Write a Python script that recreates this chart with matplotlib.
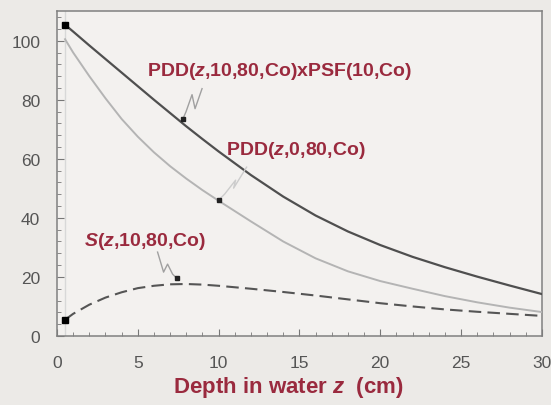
import numpy as np
import matplotlib
matplotlib.use("Agg")
import matplotlib.pyplot as plt
from matplotlib.ticker import MultipleLocator

# ==============================
# DATA
# ==============================
depth = [0.5, 1, 2, 3, 4, 5, 6, 7, 8, 9, 10, 12, 14, 16, 18, 20, 22, 24, 26, 28, 30]
pdd_psf = [105.4, 103.1, 98.4, 93.8, 89.2, 84.6, 80.0, 75.5, 71.0, 66.7, 62.5,
           54.5, 47.2, 40.8, 35.4, 30.8, 26.8, 23.3, 20.1, 17.1, 14.2]
pdd_zero = [100.5, 96.0, 88.0, 80.5, 73.5, 67.5, 62.2, 57.5, 53.3, 49.4, 45.8,
            38.8, 32.0, 26.3, 21.9, 18.6, 16.0, 13.5, 11.4, 9.6, 8.1]
scatter = [5.5, 7.5, 10.6, 13.0, 14.8, 16.2, 17.0, 17.5, 17.6, 17.4, 17.0,
           16.0, 14.9, 13.7, 12.4, 11.1, 10.0, 9.0, 8.2, 7.5, 6.8]

x_ticks = [0, 5, 10, 15, 20, 25, 30]
y_ticks = [0, 20, 40, 60, 80, 100]

red = "#9a2a3e"
fig_bg = "#eceae7"
ax_bg = "#f3f1ef"

plt.rcParams["font.family"] = ["Liberation Sans", "DejaVu Sans"]
plt.rcParams["mathtext.fontset"] = "custom"
plt.rcParams["mathtext.it"] = "Liberation Sans:italic:bold"
plt.rcParams["mathtext.rm"] = "Liberation Sans:bold"

fig = plt.figure(figsize=(5.51, 4.06), dpi=100, facecolor=fig_bg)
ax = fig.add_axes([0.1034, 0.170, 0.880, 0.800], facecolor=ax_bg)

ax.set_xlim(0, 30)
ax.set_ylim(0, 110)

# faint line at depth of maximum
ax.axvline(depth[0], color="#d8d8d8", lw=1.0, zorder=1)

ax.plot(depth, pdd_psf, color="#4f4f4f", lw=1.6, zorder=3)
ax.plot(depth, pdd_zero, color="#b4b4b4", lw=1.4, zorder=3)
ax.plot(depth, scatter, color="#555555", lw=1.5, ls=(0, (6, 3)), zorder=3)

# start points
ax.plot([depth[0], depth[0]], [pdd_psf[0], scatter[0]], "s", color="black",
        ms=4, zorder=4)


def leader(xp, yp, pts, color):
    # zigzag leader, offsets in pixels from a point next to a curve
    ax.plot([xp], [yp], "s", color="#222222", ms=2.5, zorder=5)
    disp = ax.transData.transform((xp, yp))
    line_pts = [(disp[0], disp[1])] + [(disp[0] + dx, disp[1] + dy) for dx, dy in pts]
    data_pts = ax.transData.inverted().transform(line_pts)
    ax.plot(data_pts[:, 0], data_pts[:, 1], color=color, lw=1.0, zorder=4)


leader(7.8, 73.6, [(3, 7), (9, 24), (12, 10), (19, 30)], "#a0a0a0")
leader(10.0, 46.0, [(6, 6), (17, 20), (15, 12), (28, 33)], "#cccccc")
leader(7.4, 19.6, [(-4, 4), (-9, 14), (-13, 6), (-19, 26)], "#a0a0a0")

ax.text(5.6, 90, r"PDD($z$,10,80,Co)xPSF(10,Co)", color=red,
        fontsize=14, fontweight="bold", va="center")
ax.text(10.45, 63.3, r"PDD($z$,0,80,Co)", color=red,
        fontsize=14, fontweight="bold", va="center")
ax.text(1.65, 32.5, r"$S$($z$,10,80,Co)", color=red,
        fontsize=14, fontweight="bold", va="center")

ax.set_xticks(x_ticks)
ax.set_yticks(y_ticks)
ax.xaxis.set_minor_locator(MultipleLocator(1))
ax.yaxis.set_minor_locator(MultipleLocator(4))
ax.tick_params(which="both", direction="in", colors="#777777",
               labelcolor="#555555", labelsize=12.5, top=False, right=False)
ax.tick_params(which="major", length=5)
ax.tick_params(which="minor", length=3)
ax.tick_params(axis="x", pad=14)
ax.tick_params(axis="y", pad=12)
for s in ax.spines.values():
    s.set_color("#808080")
    s.set_linewidth(1.1)

ax.set_xlabel(r"Depth in water $z$  (cm)", color=red,
              fontsize=16, fontweight="bold")
ax.xaxis.set_label_coords(0.478, -0.157, transform=ax.transAxes)
ax.xaxis.label.set_va("center")

fig.savefig("out.png", dpi=100, facecolor=fig_bg)
